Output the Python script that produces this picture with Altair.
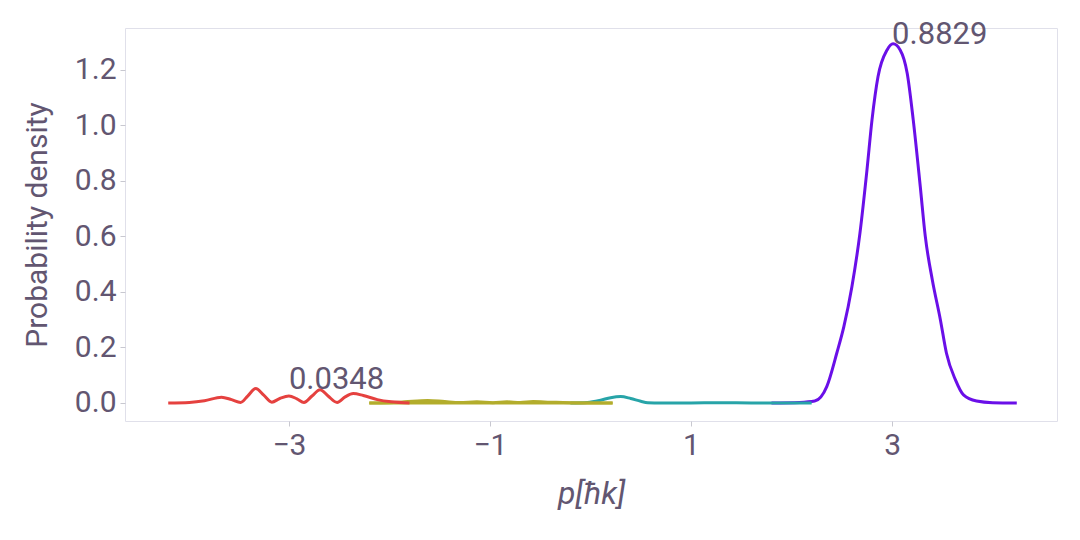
import altair as alt
import pandas as pd

# ---- data ----
red_x = [-4.20, -3.99, -3.84, -3.67, -3.57, -3.48, -3.41, -3.33, -3.25, -3.17, -3.09, -3.00,
         -2.92, -2.85, -2.77, -2.69, -2.61, -2.52, -2.44, -2.36, -2.26, -2.12, -1.98, -1.80]
red_y = [0.000, 0.002, 0.008, 0.021, 0.012, 0.002, 0.025, 0.052, 0.028, 0.003, 0.016, 0.025,
         0.015, 0.002, 0.025, 0.048, 0.025, 0.002, 0.022, 0.034, 0.027, 0.012, 0.004, 0.000]

olive_x = [-2.20, -2.00, -1.85, -1.62, -1.45, -1.30, -1.13, -0.97, -0.83, -0.70, -0.57, -0.40,
           -0.20, 0.00, 0.22]
olive_y = [0.000, 0.001, 0.004, 0.009, 0.005, 0.002, 0.004, 0.001, 0.004, 0.002, 0.005, 0.003,
           0.001, 0.000, 0.000]

teal_x = [-0.20, -0.03, 0.10, 0.20, 0.30, 0.40, 0.50, 0.57, 0.70, 1.00, 1.30, 1.60, 1.90, 2.20]
teal_y = [0.000, 0.002, 0.010, 0.019, 0.023, 0.016, 0.006, 0.001, 0.000, 0.000, 0.001, 0.000,
          0.000, 0.000]

purple_x = [1.80, 2.08, 2.23, 2.35, 2.45, 2.52, 2.60, 2.68, 2.75, 2.80, 2.86, 2.95, 3.01, 3.08,
            3.15, 3.21, 3.28, 3.33, 3.40, 3.48, 3.54, 3.63, 3.71, 3.84, 4.00, 4.24]
purple_y = [0.000, 0.002, 0.007, 0.059, 0.180, 0.275, 0.419, 0.612, 0.840, 1.020, 1.176, 1.272,
            1.294, 1.272, 1.188, 1.020, 0.780, 0.600, 0.443, 0.300, 0.180, 0.083, 0.029, 0.007,
            0.001, 0.000]

series = [
    ("purple", "#6a0fe8", purple_x, purple_y),
    ("teal", "#27a4a8", teal_x, teal_y),
    ("olive", "#b3ad2c", olive_x, olive_y),
    ("red", "#e5413f", red_x, red_y),
]

label_text = ["0.0348", "0.8829"]
label_x = [-3.0, 3.0]
label_y = [0.052, 1.294]

x_ticks = [-3, -1, 1, 3]
y_ticks = [0.0, 0.2, 0.4, 0.6, 0.8, 1.0, 1.2]

FONT = "Roboto"
TXT = "#625671"

xscale = alt.Scale(domain=[-4.63, 4.64], nice=False, zero=False)
yscale = alt.Scale(domain=[-0.065, 1.351], nice=False, zero=False)

xaxis = alt.Axis(values=x_ticks, title="p[ħk]", titleFontStyle="italic", grid=False,
                 domain=False, tickColor="#c8c8d0", tickSize=5, labelPadding=4,
                 titlePadding=18, format="d", titleFontSize=32)
yaxis = alt.Axis(values=y_ticks, title="Probability density", grid=False, domain=False,
                 tickColor="#c8c8d0", tickSize=5, labelPadding=4, titlePadding=22,
                 format=".1f")

layers = []

# flat zero baseline under the olive segment
base_df = pd.DataFrame({"x": [min(olive_x)], "x2": [max(olive_x)], "y": [0.0]})

for name, col, xs, ys in series:
    d = pd.DataFrame({"x": xs, "y": ys, "i": list(range(len(xs)))})
    if name == "olive":
        layers.append(
            alt.Chart(base_df).mark_rule(color=col, strokeWidth=3).encode(
                x=alt.X("x:Q", scale=xscale, axis=xaxis),
                x2="x2:Q",
                y=alt.Y("y:Q", scale=yscale, axis=yaxis),
            )
        )
    layers.append(
        alt.Chart(d).mark_line(strokeWidth=3, interpolate="monotone", color=col).encode(
            x=alt.X("x:Q", scale=xscale, axis=xaxis),
            y=alt.Y("y:Q", scale=yscale, axis=yaxis),
            order="i:Q",
        )
    )

lab_df = pd.DataFrame({"text": label_text, "x": label_x, "y": label_y})
layers.append(
    alt.Chart(lab_df).mark_text(align="left", baseline="alphabetic", fontSize=31,
                                font=FONT, color=TXT).encode(
        x=alt.X("x:Q", scale=xscale),
        y=alt.Y("y:Q", scale=yscale),
        text="text:N",
    )
)

chart = alt.layer(*layers).properties(
    width=932, height=393,
    autosize="none",
    padding={"left": 117, "top": 20, "right": 15, "bottom": 111},
).configure_view(
    stroke="#e0e0ea", strokeWidth=1
).configure_axis(
    labelFont=FONT, titleFont=FONT, labelFontSize=30, titleFontSize=30,
    labelColor=TXT, titleColor=TXT, titleFontWeight="normal",
)

chart.save("out.html", embed_options={"renderer": "svg", "actions": False})
